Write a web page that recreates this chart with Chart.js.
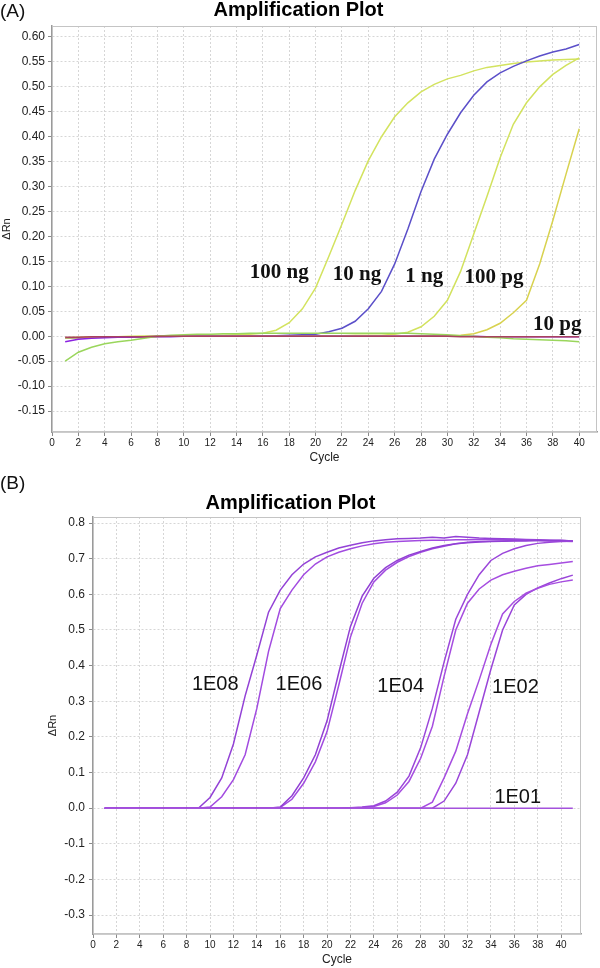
<!DOCTYPE html>
<html>
<head>
<meta charset="utf-8">
<script src="https://cdn.jsdelivr.net/npm/chart.js@4.4.1/dist/chart.umd.min.js"></script>
<style>
  html, body { margin: 0; padding: 0; background: #fff; }
  #page { position: relative; width: 600px; height: 968px; overflow: hidden; }
  .panel { position: absolute; left: 0; width: 600px; }
  #boxA { top: 0; height: 480px; }
  #boxB { top: 480px; height: 488px; }
  .tag { position: absolute; left: 0; z-index: 2; color: #111;
         font: 19px "Liberation Sans", Arial, sans-serif; line-height: 20px; }
</style>
</head>
<body>
<div id="page">
  <div class="panel" id="boxA"><canvas id="chartA"></canvas></div>
  <div class="panel" id="boxB"><canvas id="chartB"></canvas></div>
  <div class="tag" style="top:1px">(A)</div>
  <div class="tag" style="top:473px">(B)</div>
</div>
<script>
// ---- panel A : DNA dilution series, cycles 1..40 ----
var cyclesA = [1,2,3,4,5,6,7,8,9,10,11,12,13,14,15,16,17,18,19,20,
               21,22,23,24,25,26,27,28,29,30,31,32,33,34,35,36,37,38,39,40];
var ng100 = [-0.003,-0.003,-0.002,-0.002,-0.001,-0.001,0.000,0.000,0.001,0.001,
             0.001,0.002,0.002,0.003,0.004,0.006,0.012,0.027,0.055,0.097,
             0.160,0.225,0.292,0.352,0.400,0.440,0.468,0.490,0.505,0.516,
             0.523,0.532,0.539,0.543,0.547,0.550,0.552,0.554,0.555,0.556];
var ng10  = [-0.004,-0.003,-0.002,-0.002,-0.001,-0.001,-0.001,0.000,0.000,0.000,
             0.000,0.000,0.000,0.000,0.001,0.001,0.001,0.002,0.003,0.004,
             0.009,0.016,0.030,0.055,0.090,0.145,0.215,0.290,0.355,0.405,
             0.448,0.483,0.510,0.528,0.541,0.552,0.562,0.570,0.576,0.585];
var ng1   = [-0.003,-0.002,-0.002,-0.001,-0.001,0.000,0.000,0.000,0.000,0.000,
             0.000,0.000,0.000,0.000,0.000,0.000,0.000,0.000,0.001,0.001,
             0.001,0.001,0.002,0.002,0.002,0.004,0.008,0.019,0.040,0.072,
             0.130,0.205,0.280,0.358,0.425,0.468,0.500,0.525,0.543,0.558];
var pg100 = [-0.003,-0.003,-0.002,-0.002,-0.002,-0.001,-0.001,-0.001,0.000,0.000,
             0.000,0.000,0.000,0.000,0.000,0.000,0.000,0.000,0.000,0.000,
             0.000,0.000,0.000,0.000,0.000,0.000,0.000,0.001,0.001,0.001,
             0.002,0.005,0.013,0.026,0.047,0.072,0.145,0.232,0.325,0.416];
var pg10  = [-0.011,-0.006,-0.004,-0.003,-0.002,-0.002,-0.001,-0.001,-0.001,0.000,
             0.000,0.000,0.000,0.000,0.000,0.000,0.000,0.000,0.000,0.000,
             0.000,0.000,0.000,0.000,0.000,0.000,0.000,0.000,0.000,0.000,
             0.000,0.000,-0.001,-0.001,-0.001,-0.001,-0.001,-0.001,-0.001,-0.001];
var drift = [-0.050,-0.032,-0.022,-0.015,-0.011,-0.008,-0.004,0.000,0.002,0.003,
             0.004,0.004,0.005,0.005,0.006,0.006,0.006,0.006,0.006,0.006,
             0.006,0.006,0.006,0.006,0.006,0.006,0.006,0.005,0.004,0.003,
             0.001,0.000,-0.002,-0.003,-0.005,-0.006,-0.007,-0.008,-0.009,-0.011];
var flatA = [-0.002,-0.002,-0.001,-0.001,-0.001,-0.001,-0.001,0.000,0.000,0.000,
             0.000,0.000,0.000,0.000,0.000,0.000,0.000,0.000,0.000,0.000,
             0.000,0.000,0.000,0.000,0.000,0.000,0.000,0.000,0.000,0.000,
             -0.001,-0.001,-0.001,-0.001,-0.001,-0.001,-0.001,-0.001,-0.001,-0.001];
var yTicksA = [-0.15,-0.10,-0.05,0.00,0.05,0.10,0.15,0.20,0.25,0.30,0.35,0.40,0.45,0.50,0.55,0.60];
var xTicksA = [0,2,4,6,8,10,12,14,16,18,20,22,24,26,28,30,32,34,36,38,40];
var tagTextA   = ["100 ng", "10 ng", "1 ng", "100 pg", "10 pg"];
var tagCycleA  = [15.0, 21.3, 26.8, 31.3, 36.5];
var tagValueA  = [0.116, 0.112, 0.108, 0.106, 0.012];

// ---- panel B : plasmid standards 1E08..1E01, cycles 1..41 ----
var cyclesB = [1,2,3,4,5,6,7,8,9,10,11,12,13,14,15,16,17,18,19,20,
               21,22,23,24,25,26,27,28,29,30,31,32,33,34,35,36,37,38,39,40,41];
var e08a = [0,0,0,0,0,0,0,0,0.000,0.030,
            0.085,0.180,0.315,0.430,0.550,0.612,0.655,0.685,0.705,0.718,
            0.730,0.738,0.745,0.750,0.753,0.756,0.757,0.758,0.760,0.758,
            0.762,0.760,0.758,0.757,0.756,0.755,0.754,0.753,0.752,0.752,0.750];
var e08b = [0,0,0,0,0,0,0,0,0,0.003,
            0.032,0.080,0.150,0.280,0.440,0.560,0.612,0.655,0.685,0.705,
            0.718,0.728,0.736,0.742,0.746,0.748,0.750,0.751,0.752,0.752,
            0.753,0.753,0.754,0.754,0.753,0.753,0.752,0.751,0.750,0.749,0.748];
var e06a = [0,0,0,0,0,0,0,0,0,0,0,0,0,0,0,
            0.003,0.035,0.085,0.150,0.245,0.380,0.510,0.595,0.645,0.675,
            0.695,0.710,0.720,0.730,0.737,0.742,0.745,0.747,0.748,0.749,
            0.750,0.750,0.751,0.751,0.751,0.750];
var e06b = [0,0,0,0,0,0,0,0,0,0,0,0,0,0,0,
            0.002,0.025,0.070,0.130,0.215,0.345,0.480,0.575,0.635,0.668,
            0.690,0.706,0.718,0.728,0.735,0.742,0.746,0.748,0.749,0.750,
            0.751,0.752,0.752,0.751,0.750,0.749];
var e04a = [0,0,0,0,0,0,0,0,0,0,0,0,0,0,0,0,0,0,0,0,0,
            0.001,0.003,0.007,0.020,0.045,0.090,0.170,0.280,0.410,0.530,
            0.600,0.655,0.695,0.715,0.728,0.737,0.743,0.746,0.748,0.750];
var e04b = [0,0,0,0,0,0,0,0,0,0,0,0,0,0,0,0,0,0,0,0,0,
            0.001,0.002,0.005,0.015,0.037,0.075,0.140,0.230,0.370,0.500,
            0.575,0.615,0.640,0.655,0.665,0.673,0.680,0.684,0.688,0.692];
var e02a = [0,0,0,0,0,0,0,0,0,0,0,0,0,0,0,0,0,0,0,0,0,0,0,0,0,0,0,0,
            0.017,0.085,0.160,0.265,0.360,0.460,0.545,0.580,0.603,0.617,0.628,0.635,0.640];
var e02b = [0,0,0,0,0,0,0,0,0,0,0,0,0,0,0,0,0,0,0,0,0,0,0,0,0,0,0,0,0,
            0.020,0.070,0.150,0.270,0.390,0.500,0.570,0.600,0.618,0.632,0.644,0.654];
var e01  = [0,0,0,0,0,0,0,0,0,0,0,0,0,0,0,0,0,0,0,0,
            0,0,0,0,0,0,0,0,0,0,0,0,0,0,0,0,0,0,0,0,0];
var yTicksB = [-0.3,-0.2,-0.1,0.0,0.1,0.2,0.3,0.4,0.5,0.6,0.7,0.8];
var xTicksB = [0,2,4,6,8,10,12,14,16,18,20,22,24,26,28,30,32,34,36,38,40];
var tagTextB  = ["1E08", "1E06", "1E04", "1E02", "1E01"];
var tagCycleB = [8.45, 15.6, 24.3, 34.1, 34.3];
var tagValueB = [0.331, 0.331, 0.326, 0.323, 0.014];

var SANS = '"Liberation Sans", Arial, sans-serif';
var SERIF = '"Liberation Serif", "Times New Roman", serif';

function pts(xs, ys) {
  return xs.map(function (x, i) { return { x: x, y: ys[i] }; });
}

function line(label, xs, ys, color) {
  return {
    label: label, data: pts(xs, ys), borderColor: color, backgroundColor: color,
    borderWidth: 1.5, pointRadius: 0, tension: 0, fill: false
  };
}

// light frame around the plot area (top/right edges of the box)
var framePlugin = {
  id: "frame",
  beforeDatasetsDraw: function (chart) {
    var a = chart.chartArea, ctx = chart.ctx;
    ctx.save();
    ctx.strokeStyle = "#c4c4c4";
    ctx.lineWidth = 1;
    ctx.strokeRect(a.left + 0.5, a.top + 0.5, a.right - a.left - 1, a.bottom - a.top - 1);
    ctx.restore();
  }
};

// text tags next to each curve, anchored in data coordinates
var tagPlugin = {
  id: "curveTags",
  afterDatasetsDraw: function (chart, args, opts) {
    var xs = chart.scales.x, ys = chart.scales.y, ctx = chart.ctx;
    ctx.save();
    ctx.font = opts.font;
    ctx.fillStyle = "#111";
    ctx.textAlign = "left";
    ctx.textBaseline = "alphabetic";
    opts.text.forEach(function (t, i) {
      ctx.fillText(t, xs.getPixelForValue(opts.cycles[i]), ys.getPixelForValue(opts.values[i]));
    });
    ctx.restore();
  }
};

function makeChart(id, cfg) {
  return new Chart(document.getElementById(id).getContext("2d"), {
    type: "line",
    data: { datasets: cfg.datasets },
    plugins: [framePlugin, tagPlugin],
    options: {
      responsive: true,
      maintainAspectRatio: false,
      animation: false,
      events: [],
      layout: { padding: { left: 0, right: cfg.padRight, top: 0, bottom: 0 } },
      plugins: {
        legend: { display: false },
        tooltip: { enabled: false },
        title: {
          display: true,
          text: "Amplification Plot",
          color: "#000",
          font: { family: SANS, size: 20, weight: "bold", lineHeight: 1 },
          padding: cfg.titlePad
        },
        curveTags: { text: cfg.tagText, cycles: cfg.tagCycle, values: cfg.tagValue, font: cfg.tagFont }
      },
      scales: {
        x: {
          type: "linear",
          min: 0,
          max: cfg.xMax,
          afterBuildTicks: function (s) { s.ticks = cfg.xTicks.map(function (v) { return { value: v }; }); },
          afterFit: function (s) { s.height = cfg.xHeight; },
          ticks: {
            autoSkip: false, maxRotation: 0, padding: 1, color: "#222",
            font: { family: SANS, size: 10 },
            callback: function (v) { return String(v); }
          },
          grid: { color: "#d6d6d6", lineWidth: 1, tickLength: 4, tickColor: "#8a8a8a" },
          border: { display: true, color: "#9a9a9a", width: 1.5, dash: [2, 2] },
          title: {
            display: true, text: "Cycle", color: "#222",
            font: { family: SANS, size: 12 },
            padding: { top: 0, bottom: cfg.cyclePad }
          }
        },
        y: {
          min: cfg.yMin,
          max: cfg.yMax,
          afterBuildTicks: function (s) { s.ticks = cfg.yTicks.map(function (v) { return { value: v }; }); },
          afterFit: function (s) { s.width = cfg.yWidth; },
          ticks: {
            autoSkip: false, padding: cfg.yTickPad, color: "#222",
            font: { family: SANS, size: 12 },
            callback: function (v) { return Number(v).toFixed(cfg.yDigits); }
          },
          grid: { color: "#d6d6d6", lineWidth: 1, tickLength: 4, tickColor: "#8a8a8a" },
          border: { display: true, color: "#9a9a9a", width: 1.5, dash: [2, 2] },
          title: {
            display: true, text: "\u0394Rn", color: "#222",
            font: { family: SANS, size: 11 },
            padding: { top: cfg.rnPad, bottom: 0 }
          }
        }
      }
    }
  });
}

makeChart("chartA", {
  datasets: [
    line("baseline", cyclesA, flatA, "#a8425f"),
    line("drift", cyclesA, drift, "#9ad65c"),
    line("10 pg", cyclesA, pg10, "#8b22e0"),
    line("100 pg", cyclesA, pg100, "#d8d24f"),
    line("1 ng", cyclesA, ng1, "#d2e25e"),
    line("10 ng", cyclesA, ng10, "#5b4fc9"),
    line("100 ng", cyclesA, ng100, "#d3e35f")
  ],
  xMax: 41.35, yMin: -0.192, yMax: 0.622,
  xTicks: xTicksA, yTicks: yTicksA, yDigits: 2,
  xHeight: 48, yWidth: 52, padRight: 3, yTickPad: 3,
  titlePad: { top: 0, bottom: 6 }, cyclePad: 15, rnPad: 0,
  tagText: tagTextA, tagCycle: tagCycleA, tagValue: tagValueA,
  tagFont: "bold 21px " + SERIF
});

makeChart("chartB", {
  datasets: [
    line("1E01", cyclesB, e01, "#a452dc"),
    line("1E02 a", cyclesB, e02a, "#a64de0"),
    line("1E02 b", cyclesB, e02b, "#9a45d9"),
    line("1E04 a", cyclesB, e04a, "#9b46da"),
    line("1E04 b", cyclesB, e04b, "#a64de0"),
    line("1E06 a", cyclesB, e06a, "#9140d4"),
    line("1E06 b", cyclesB, e06b, "#a24be0"),
    line("1E08 a", cyclesB, e08a, "#9342d6"),
    line("1E08 b", cyclesB, e08b, "#a24be0")
  ],
  xMax: 41.7, yMin: -0.353, yMax: 0.817,
  xTicks: xTicksB, yTicks: yTicksB, yDigits: 1,
  xHeight: 34, yWidth: 93, padRight: 19, yTickPad: 4,
  titlePad: { top: 13, bottom: 4 }, cyclePad: 1, rnPad: 46,
  tagText: tagTextB, tagCycle: tagCycleB, tagValue: tagValueB,
  tagFont: "20px " + SANS
});
</script>
</body>
</html>
